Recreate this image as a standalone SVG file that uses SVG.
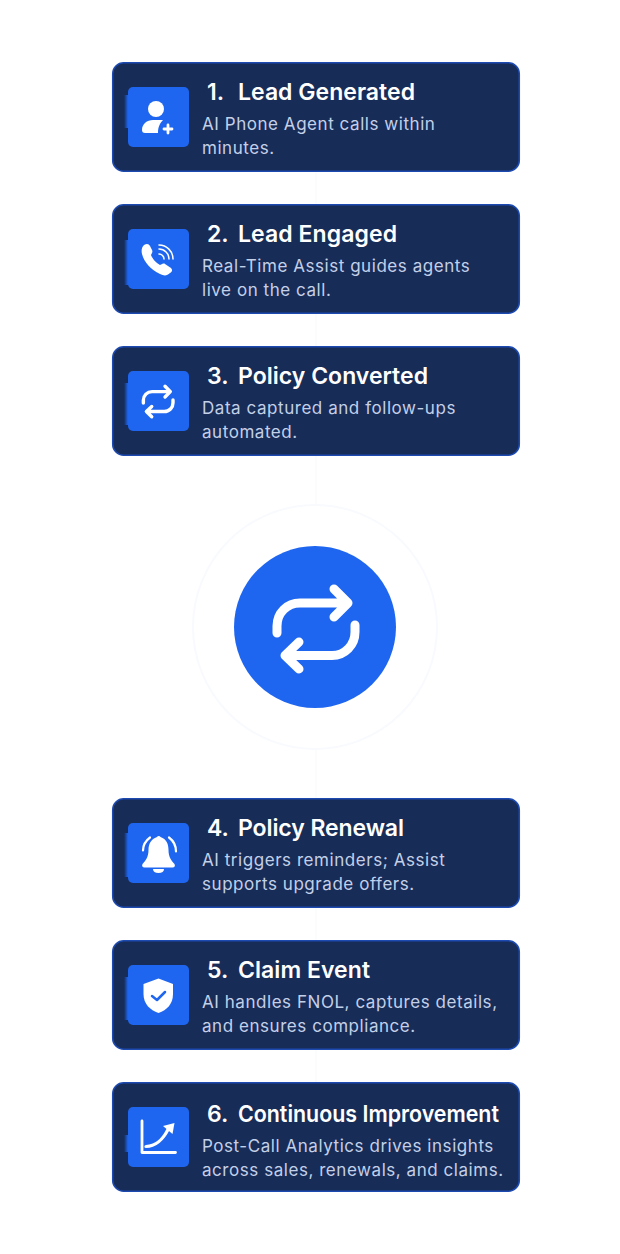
<svg xmlns="http://www.w3.org/2000/svg" width="620" height="1254" viewBox="0 0 620 1254">
<style>
.card{fill:#182c58;stroke:#1c4ab0;stroke-width:1.5}
.tile{fill:#1e66f0}
.smear{fill:url(#sm)}
.t{font-family:Inter,"Liberation Sans",sans-serif;font-size:23px;font-weight:600;fill:#fff}
.b{font-family:Inter,"Liberation Sans",sans-serif;font-size:17px;font-weight:400;fill:#c3d0e8;letter-spacing:.55px}
.ic{fill:none;stroke:#fff;stroke-linecap:round;stroke-linejoin:round}
.w{fill:#fff}
.faint{fill:none;stroke:#fafbfe;stroke-width:1.500}
</style>
<defs>
<linearGradient id="sm" x1="0" x2="1" y1="0" y2="0"><stop offset="0" stop-color="#1e66f0" stop-opacity="0"/><stop offset="1" stop-color="#1e66f0"/></linearGradient>
<path id="rep" d="M277 633V626c0-13 10-23 23-23H348M334 589L348 603L334 617M355 625V632c0 13-10 23.500-23 23.500H285M299 642L285 655.500L299 669"/>
</defs>
<rect width="620" height="1254" fill="#fff"/>
<g id="connectors">
<path class="faint" d="M316 172V204M316 314V346M316 456V505M316 749V798M316 908V940M316 1050V1082"/>
<circle class="faint" style="stroke:#f8fafe;stroke-width:2" cx="315" cy="627" r="122"/>
</g>
<g id="node1">
<rect class="card" x="112.700" y="62.700" width="406.600" height="108.600" rx="11"/>
<rect class="smear" x="124" y="95" width="4" height="33"/>
<rect class="tile" x="128" y="87" width="61" height="60" rx="5"/>
<circle class="w" cx="156" cy="109" r="8"/>
<path class="w" d="M142 130c0-6 5-10 11-10h10c-3 3-5 7-5 13h-13c-2 0-3-1-3-3z"/>
<path class="ic" stroke-width="2.800" d="M168 125v8M164 129h8"/>
<text class="t" x="207" y="100">1.<tspan x="238" textLength="177">Lead Generated</tspan></text>
<text class="b" x="202" y="130">AI Phone Agent calls within</text>
<text class="b" x="202" y="154">minutes.</text>
</g>
<g id="node2">
<rect class="card" x="112.700" y="204.700" width="406.600" height="108.600" rx="11"/>
<rect class="smear" x="124" y="240" width="4" height="45"/>
<rect class="tile" x="128" y="229" width="61" height="60" rx="5"/>
<path class="w" d="M144 245c3-2 5-1 6 1l2 4c1 2 0 3-1 5c1 3 5 8 9 10c2-1 4-2 5-1l6 4c2 2 1 4-1 5c-3 3-6 3-10 1c-9-4-16-12-18-20c-1-4 0-7 2-9z"/>
<path class="ic" stroke-width="1.500" d="M159 254a5 5 0 0 1 5 5M159 249a10 10 0 0 1 10 10M159 245a14 14 0 0 1 14 14"/>
<text class="t" x="207" y="242">2.<tspan x="238" textLength="159">Lead Engaged</tspan></text>
<text class="b" x="202" y="272">Real-Time Assist guides agents</text>
<text class="b" x="202" y="296">live on the call.</text>
</g>
<g id="node3">
<rect class="card" x="112.700" y="346.700" width="406.600" height="108.600" rx="11"/>
<rect class="smear" x="124" y="383" width="4" height="42"/>
<rect class="tile" x="128" y="371" width="61" height="60" rx="5"/>
<use href="#rep" class="ic" stroke-width="9" transform="translate(158.300 401.500) scale(.38) translate(-316.300 -629)"/>
<text class="t" x="207" y="384">3.<tspan x="238" textLength="190">Policy Converted</tspan></text>
<text class="b" x="202" y="414">Data captured and follow-ups</text>
<text class="b" x="202" y="438">automated.</text>
</g>
<g id="node-center">
<circle cx="315" cy="627" r="81" fill="#1e66f0"/>
<use href="#rep" class="ic" stroke-width="9"/>
</g>
<g id="node4">
<rect class="card" x="112.700" y="798.700" width="406.600" height="108.600" rx="11"/>
<rect class="smear" x="124" y="833" width="4" height="44"/>
<rect class="tile" x="128" y="823" width="61" height="60" rx="5"/>
<path class="w" d="M157 837a2 2 0 0 1 3.500 0c6 2 8 7 8 13c0 7 3 11 6 14c1 2 0 3.500-2 3.500h-28c-2 0-3-1.500-2-3.500c3-3 6-7 6-14c0-6 2.500-11 8.500-13z"/>
<path class="w" d="M153 869h11c0 2.500-2 4-5.500 4s-5.500-1.500-5.500-4z"/>
<path class="ic" stroke-width="2.200" d="M150 837.500c-4 3-7 8-7 13M169 837.500c4 3 7 8 7 14"/>
<text class="t" x="207" y="836">4.<tspan x="238" textLength="166">Policy Renewal</tspan></text>
<text class="b" x="202" y="866">AI triggers reminders; Assist</text>
<text class="b" x="202" y="890">supports upgrade offers.</text>
</g>
<g id="node5">
<rect class="card" x="112.700" y="940.700" width="406.600" height="108.600" rx="11"/>
<rect class="smear" x="124" y="977" width="4" height="43"/>
<rect class="tile" x="128" y="965" width="61" height="60" rx="5"/>
<path class="w" d="M158.500 978.500l14.500 5.500v10c0 10-6 16-14.500 19c-8.500-3-15-9-15-19v-10z"/>
<path class="ic" style="stroke:#1e66f0" stroke-width="2.500" d="M152 996l5 4l8-8"/>
<text class="t" x="207" y="978">5.<tspan x="238" textLength="132">Claim Event</tspan></text>
<text class="b" x="202" y="1008">AI handles FNOL, captures details,</text>
<text class="b" x="202" y="1032">and ensures compliance.</text>
</g>
<g id="node6">
<rect class="card" x="112.700" y="1082.700" width="406.600" height="108.600" rx="11"/>
<rect class="smear" x="124" y="1135" width="4" height="17"/>
<rect class="tile" x="128" y="1107" width="61" height="60" rx="5"/>
<path class="ic" stroke-width="2.800" stroke-linecap="square" d="M142 1121v31.500h33.500"/>
<path class="ic" stroke-width="3.200" d="M146 1146.500c9 0 17-7 22-17"/>
<path class="w" d="M163 1126l11.500-3l-2 11z"/>
<text class="t" x="207" y="1122">6.<tspan x="238" textLength="261" lengthAdjust="spacingAndGlyphs">Continuous Improvement</tspan></text>
<text class="b" x="202" y="1152">Post-Call Analytics drives insights</text>
<text class="b" x="202" y="1176">across sales, renewals, and claims.</text>
</g>
</svg>
